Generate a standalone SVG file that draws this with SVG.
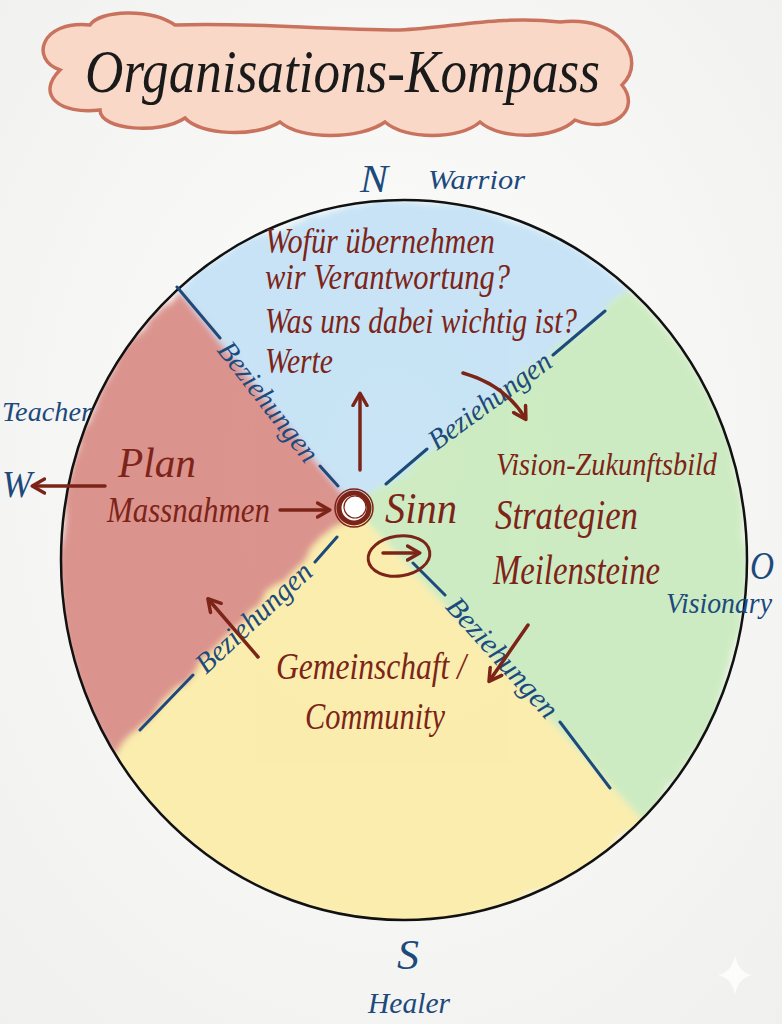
<svg xmlns="http://www.w3.org/2000/svg" width="782" height="1024" viewBox="0 0 782 1024">
<defs>
<style>
.red{fill:#7d2418;font-family:"Liberation Serif",serif;font-style:italic}
.blue{fill:#1d4a7c;font-family:"Liberation Serif",serif;font-style:italic}
.div{stroke:#1d4a7c;stroke-width:3;stroke-linecap:round;fill:none}
.arr{stroke:#7d2418;stroke-width:3.5;fill:none;stroke-linecap:round}
</style>
<marker id="ah" viewBox="0 0 10 10" refX="7" refY="5" markerWidth="5" markerHeight="5" orient="auto-start-reverse">
<path d="M1,1 L8,5 L1,9" fill="none" stroke="#7d2418" stroke-width="2" stroke-linecap="round" stroke-linejoin="round"/>
</marker>
<filter id="wc" x="-10%" y="-10%" width="120%" height="120%">
<feTurbulence type="fractalNoise" baseFrequency="0.02" numOctaves="3" seed="4"/>
<feDisplacementMap in="SourceGraphic" scale="14"/>
<feGaussianBlur stdDeviation="3"/>
</filter>
<clipPath id="circ"><ellipse cx="404" cy="560" rx="343" ry="360"/></clipPath>
<radialGradient id="bg" cx="0.5" cy="0.45" r="0.8"><stop offset="0" stop-color="#fdfdfc"/><stop offset="1" stop-color="#efefee"/></radialGradient>
</defs>
<rect width="782" height="1024" fill="url(#bg)"/>

<g id="title">
<path d="M60,70 C30,60 40,20 90,25 C100,10 150,8 175,25 C250,22 320,30 400,30 C450,28 500,15 560,22 C620,15 648,60 622,85 C642,110 612,135 575,120 C555,140 500,140 480,122 C460,140 405,140 385,122 C360,140 300,140 280,122 C255,138 200,135 185,118 C160,135 100,130 100,110 C60,115 35,95 60,70 Z" fill="#f9d8c8" stroke="#c9735f" stroke-width="3.5"/>
<text x="85" y="92" font-family="Liberation Serif,serif" font-style="italic" font-size="62" fill="#1a1a1a" textLength="515" lengthAdjust="spacingAndGlyphs">Organisations-Kompass</text>
</g>

<g id="compass" clip-path="url(#circ)">
<g filter="url(#wc)" opacity="0.85">
<path d="M354,508 L178,290 A343,360 0 0 1 630,290 Z" fill="#bfe0f5"/>
<path d="M354,508 L630,290 A343,360 0 0 1 642,820 Z" fill="#c6e9b9"/>
<path d="M354,508 L642,820 A343,360 0 0 1 113,755 Z" fill="#fbeba0"/>
<path d="M354,508 L113,755 A343,360 0 0 1 178,290 Z" fill="#d6827c"/>
</g>
</g>
<ellipse id="rim" cx="404" cy="560" rx="343" ry="360" fill="none" stroke="#111" stroke-width="2.5"/>

<g id="dividers">
<path class="div" d="M177,287 L220,338 M320,466 L338,486"/>
<path class="div" d="M605,311 L553,355 M427,449 L386,484"/>
<path class="div" d="M337,537 L315,562 M193,675 L140,730"/>
<path class="div" d="M413,563 L445,595 M560,722 L610,788"/>
</g>

<g id="beziehungen">
<text class="blue" font-size="29" text-anchor="middle" transform="translate(268,402) rotate(52)" y="9" textLength="145" lengthAdjust="spacingAndGlyphs">Beziehungen</text>
<text class="blue" font-size="29" text-anchor="middle" transform="translate(490,401) rotate(-36)" y="9" textLength="145" lengthAdjust="spacingAndGlyphs">Beziehungen</text>
<text class="blue" font-size="29" text-anchor="middle" transform="translate(254,618) rotate(-43)" y="9" textLength="148" lengthAdjust="spacingAndGlyphs">Beziehungen</text>
<text class="blue" font-size="29" text-anchor="middle" transform="translate(502,658) rotate(48)" y="9" textLength="152" lengthAdjust="spacingAndGlyphs">Beziehungen</text>
</g>

<g id="connectors">
<path class="arr" d="M105,486 L34,486" marker-end="url(#ah)"/>
<path class="arr" d="M280,510 L328,510" marker-end="url(#ah)"/>
<path class="arr" d="M360,470 L360,395" marker-end="url(#ah)"/>
<path class="arr" d="M463,373 Q505,385 525,418" marker-end="url(#ah)"/>
<path class="arr" d="M528,625 L490,680" marker-end="url(#ah)"/>
<path class="arr" d="M258,657 L209,600" marker-end="url(#ah)"/>
<path class="arr" d="M383,553 L418,553" marker-end="url(#ah)"/>
</g>

<g id="sinn">
<circle cx="354" cy="508" r="15" fill="#fff" stroke="#7d2418" stroke-width="5"/>
<circle cx="354" cy="508" r="19" fill="none" stroke="#7d2418" stroke-width="1.5"/>
<circle cx="355" cy="507" r="11" fill="none" stroke="#7d2418" stroke-width="1.2"/>
<text class="red" x="385" y="523" font-size="44" textLength="72" lengthAdjust="spacingAndGlyphs">Sinn</text>
<ellipse cx="399" cy="556" rx="31" ry="20" fill="none" stroke="#7d2418" stroke-width="3" transform="rotate(-8 399 556)"/>
</g>

<g id="north">
<text class="blue" x="360" y="192" font-size="40" font-style="normal" textLength="28" lengthAdjust="spacingAndGlyphs">N</text>
<text class="blue" x="428" y="189" font-size="28" textLength="97" lengthAdjust="spacingAndGlyphs">Warrior</text>
<text class="red" x="265" y="253" font-size="35" textLength="230" lengthAdjust="spacingAndGlyphs">Wofür übernehmen</text>
<text class="red" x="265" y="289" font-size="35" textLength="245" lengthAdjust="spacingAndGlyphs">wir Verantwortung?</text>
<text class="red" x="265" y="333" font-size="35" textLength="312" lengthAdjust="spacingAndGlyphs">Was uns dabei wichtig ist?</text>
<text class="red" x="265" y="373" font-size="35" textLength="68" lengthAdjust="spacingAndGlyphs">Werte</text>
</g>

<g id="west">
<text class="blue" x="2" y="421" font-size="28" textLength="90" lengthAdjust="spacingAndGlyphs">Teacher</text>
<text class="blue" x="2" y="497" font-size="38" font-style="normal" textLength="30" lengthAdjust="spacingAndGlyphs">W</text>
<text class="red" x="118" y="477" font-size="42" textLength="78" lengthAdjust="spacingAndGlyphs">Plan</text>
<text class="red" x="107" y="522" font-size="36" textLength="163" lengthAdjust="spacingAndGlyphs">Massnahmen</text>
</g>

<g id="east">
<text class="red" x="496" y="475" font-size="32" textLength="221" lengthAdjust="spacingAndGlyphs">Vision-Zukunftsbild</text>
<text class="red" x="495" y="529" font-size="42" textLength="143" lengthAdjust="spacingAndGlyphs">Strategien</text>
<text class="red" x="493" y="584" font-size="42" textLength="167" lengthAdjust="spacingAndGlyphs">Meilensteine</text>
<text class="blue" x="750" y="579" font-size="40" textLength="24" lengthAdjust="spacingAndGlyphs">O</text>
<text class="blue" x="666" y="613" font-size="30" textLength="106" lengthAdjust="spacingAndGlyphs">Visionary</text>
</g>

<g id="south">
<text class="red" x="276" y="679" font-size="38" textLength="190" lengthAdjust="spacingAndGlyphs">Gemeinschaft /</text>
<text class="red" x="305" y="729" font-size="38" textLength="140" lengthAdjust="spacingAndGlyphs">Community</text>
<text class="blue" x="397" y="969" font-size="42" textLength="22" lengthAdjust="spacingAndGlyphs">S</text>
<text class="blue" x="368" y="1013" font-size="30" textLength="82" lengthAdjust="spacingAndGlyphs">Healer</text>
</g>

<path id="sparkle" d="M735,955 Q738,972 752,975 Q738,978 735,995 Q732,978 718,975 Q732,972 735,955 Z" fill="#ffffff" opacity="0.8"/>
</svg>
